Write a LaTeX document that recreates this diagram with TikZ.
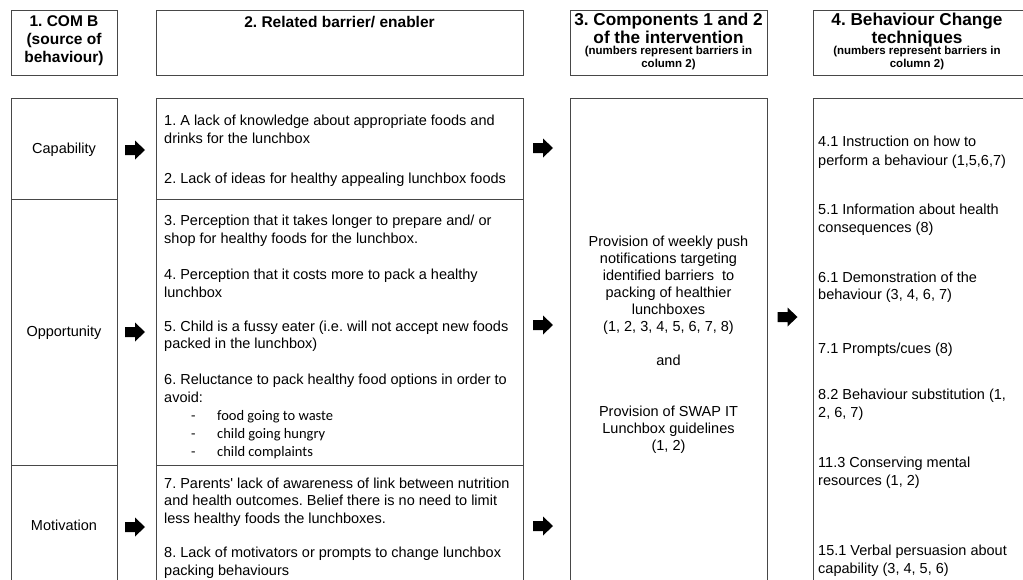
\documentclass[tikz,border=0pt]{standalone}
\usepackage{fontspec}
\setmainfont{Liberation Sans}
\newfontfamily\calib{Carlito}
\frenchspacing
\begin{document}
\frenchspacing
\begin{tikzpicture}[x=1pt,y=-1pt,
  frame/.style={draw=black!72,line width=0.9pt},
  hd/.style={font=\bfseries\fontsize{15.5}{18}\selectfont,inner sep=0pt,anchor=base},
  hdb/.style={font=\bfseries\fontsize{17.2}{20}\selectfont,inner sep=0pt,anchor=base},
  hds/.style={font=\bfseries\fontsize{11.5}{13}\selectfont,inner sep=0pt,anchor=base},
  tb/.style={font=\fontsize{14.5}{18}\selectfont,inner sep=0pt,anchor=base west},
  tc/.style={font=\fontsize{14.5}{17}\selectfont,inner sep=0pt,anchor=base},
  td/.style={font=\fontsize{14.5}{17}\selectfont,inner sep=0pt,anchor=base west},
  lab/.style={font=\fontsize{14.5}{18}\selectfont,inner sep=0pt},
  bul/.style={font=\calib\fontsize{14.5}{17}\selectfont,inner sep=0pt,anchor=base west},
  blk/.pic={\fill (-10,-5) -- (0,-5) -- (0,-9.5) -- (10,0) -- (0,9.5) -- (0,5) -- (-10,5) -- cycle;}
]
\fill[white] (0,0) rectangle (1023,579);
\useasboundingbox (0,0) rectangle (1023,579);

% header frames
\draw[frame] (11,10.5) rectangle (117,75);
\draw[frame] (156,10.5) rectangle (523,75);
\draw[frame] (570,10.5) rectangle (767,75);
\draw[frame] (813,10.5) rectangle (1035,75);

% body frames
\draw[frame] (11,98) rectangle (117,600);
\draw[frame] (11,199) -- (117,199) (11,465) -- (117,465);
\draw[frame] (156,98) rectangle (523,600);
\draw[frame] (156,199) -- (523,199) (156,465) -- (523,465);
\draw[frame] (570,98) rectangle (767,600);
\draw[frame] (813,98) rectangle (1035,600);

% headers
\node[hd] (h1a) at (64,26) {1. COM B};
\node[hd] (h1b) at (64,44) {(source of};
\node[hd] (h1c) at (64,62) {behaviour)};
\node[hd] (h2) at (339.5,27) {2. Related barrier/ enabler};
\node[hdb] (h3a) at (668.5,25.5) {3. Components 1 and 2};
\node[hdb] (h3b) at (668.5,43) {of the intervention};
\node[hds] (h3c) at (668.5,54.5) {(numbers represent barriers in};
\node[hds] (h3d) at (668.5,67) {column 2)};
\node[hdb] (h4a) at (917,25.5) {4. Behaviour Change};
\node[hdb] (h4b) at (917,43) {techniques};
\node[hds] (h4c) at (917,54.5) {(numbers represent barriers in};
\node[hds] (h4d) at (917,67) {column 2)};

% column 1 labels
\node[lab] (cap) at (64,150) {Capability};
\node[lab] (opp) at (64,333) {Opportunity};
\node[lab] (mot) at (64,525) {Motivation};

% column 2 text
\foreach \yy/\txt [count=\k] in {
 125.5/{1. A lack of knowledge about appropriate foods and},
 143.5/{drinks for the lunchbox},
 183.5/{2. Lack of ideas for healthy appealing lunchbox foods},
 225.5/{3. Perception that it takes longer to prepare and/ or},
 243.5/{shop for healthy foods for the lunchbox.},
 279.5/{4. Perception that it costs more to pack a healthy},
 297.5/{lunchbox},
 331.5/{5. Child is a fussy eater (i.e. will not accept new foods},
 348.5/{packed in the lunchbox)},
 384.5/{6. Reluctance to pack healthy food options in order to},
 402.5/{avoid:},
 488.5/{7. Parents\textquotesingle\ lack of awareness of link between nutrition},
 505.5/{and health outcomes. Belief there is no need to limit},
 523.5/{less healthy foods the lunchboxes.},
 557.5/{8. Lack of motivators or prompts to change lunchbox},
 575.5/{packing behaviours}}
 {\node[tb] (b\k) at (164,\yy) {\txt};}

\foreach \yy/\txt [count=\k] in {
 420.5/{food going to waste},
 438.5/{child going hungry},
 456.5/{child complaints}}
 {\node[bul] (dash\k) at (191,\yy) {-};
  \node[bul] (bl\k) at (217,\yy) {\txt};}

% column 3 text
\foreach \yy/\txt [count=\k] in {
 246/{Provision of weekly push},
 263/{notifications targeting},
 280/{identified barriers~ to},
 297/{packing of healthier},
 314/{lunchboxes},
 331/{(1, 2, 3, 4, 5, 6, 7, 8)},
 365/{and},
 416/{Provision of SWAP IT},
 433/{Lunchbox guidelines},
 450/{(1, 2)}}
 {\node[tc] (c\k) at (668.5,\yy) {\txt};}

% column 4 text
\foreach \yy/\txt [count=\k] in {
 146/{4.1 Instruction on how to},
 165/{perform a behaviour (1,5,6,7)},
 214/{5.1 Information about health},
 232/{consequences (8)},
 282/{6.1 Demonstration of the},
 299/{behaviour (3, 4, 6, 7)},
 353/{7.1 Prompts/cues (8)},
 399/{8.2 Behaviour substitution (1,},
 417/{2, 6, 7)},
 467/{11.3 Conserving mental},
 485/{resources (1, 2)},
 555/{15.1 Verbal persuasion about},
 573/{capability (3, 4, 5, 6)}}
 {\node[td] (d\k) at (818,\yy) {\txt};}

% block arrows
\pic at (135,150) {blk};
\pic at (135,332) {blk};
\pic at (135,527) {blk};
\pic at (543,148) {blk};
\pic at (543,325) {blk};
\pic at (543,526) {blk};
\pic at (787.5,317) {blk};
\end{tikzpicture}
\end{document}
